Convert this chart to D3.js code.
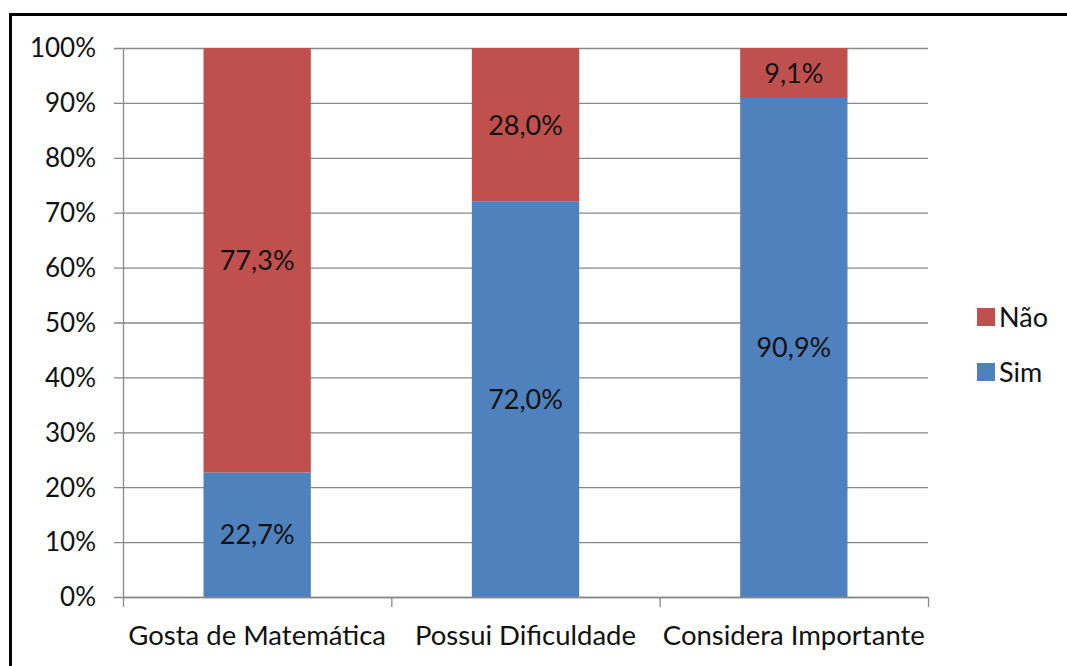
<!DOCTYPE html>
<html>
<head>
<meta charset="utf-8">
<script src="https://cdn.jsdelivr.net/npm/d3@7"></script>
<style>
  html, body { margin: 0; padding: 0; background: #fff; }
  svg { display: block; }
  text { font-family: Lato, "Open Sans", sans-serif; fill: #111; }
</style>
</head>
<body>
<svg id="chart" width="1067" height="666"></svg>
<script>
// Survey answers per question (percent of respondents)
const categories = ["Gosta de Matemática", "Possui Dificuldade", "Considera Importante"];
const simValues = [22.7, 72.0, 90.9];
const naoValues = [77.3, 28.0, 9.1];
const seriesNames = ["Sim", "Não"];
const seriesColors = ["#4F81BD", "#C0504D"];
const yTicks = [0, 10, 20, 30, 40, 50, 60, 70, 80, 90, 100];

const svg = d3.select("#chart");

// outer frame
svg.append("rect")
  .attr("x", 10.5).attr("y", 14.5)
  .attr("width", 1100).attr("height", 700)
  .attr("fill", "none").attr("stroke", "#000").attr("stroke-width", 3);

const plotLeft = 123, plotRight = 928, plotTop = 48, plotBottom = 597;

const x = d3.scaleBand().domain(categories).range([plotLeft, plotRight]).paddingInner(0.6).paddingOuter(0.3);
const xOuter = d3.scaleBand().domain(categories).range([plotLeft, plotRight]);
const y = d3.scaleLinear().domain([0, 100]).range([plotBottom, plotTop]);

const fmt = v => v.toFixed(1).replace(".", ",") + "%";

// horizontal gridlines
svg.append("g").selectAll("line").data(yTicks).join("line")
  .attr("x1", plotLeft - 9).attr("x2", plotRight)
  .attr("y1", d => y(d) + 0.5).attr("y2", d => y(d) + 0.5)
  .attr("stroke", "#898989").attr("stroke-width", 1.3);

// y axis line
svg.append("line")
  .attr("x1", plotLeft + 0.5).attr("x2", plotLeft + 0.5)
  .attr("y1", plotTop).attr("y2", plotBottom)
  .attr("stroke", "#898989").attr("stroke-width", 1.3);

// y tick labels
svg.append("g").selectAll("text").data(yTicks).join("text")
  .attr("x", 96).attr("y", d => y(d))
  .attr("dy", "0.36em")
  .attr("text-anchor", "end")
  .attr("font-size", 26)
  .text(d => d + "%");

// stacked data
const rows = categories.map((c, i) => ({ cat: c, Sim: simValues[i], "Não": naoValues[i] }));
const stack = d3.stack().keys(seriesNames)(rows);

const barsG = svg.append("g");
stack.forEach((layer, li) => {
  barsG.append("g").selectAll("rect").data(layer).join("rect")
    .attr("x", d => x(d.data.cat))
    .attr("width", x.bandwidth())
    .attr("y", d => y(d[1]))
    .attr("height", d => y(d[0]) - y(d[1]))
    .attr("fill", seriesColors[li]);
  barsG.append("g").selectAll("text").data(layer).join("text")
    .attr("x", d => x(d.data.cat) + x.bandwidth() / 2)
    .attr("y", d => y((d[0] + d[1]) / 2))
    .attr("dy", "0.36em")
    .attr("text-anchor", "middle")
    .attr("font-size", 27)
    .text(d => fmt(d[1] - d[0]));
});

// x axis baseline and ticks
svg.append("line")
  .attr("x1", plotLeft).attr("x2", plotRight)
  .attr("y1", plotBottom + 0.5).attr("y2", plotBottom + 0.5)
  .attr("stroke", "#898989").attr("stroke-width", 1.3);
const xTickPos = categories.map(c => xOuter(c)).concat([plotRight]);
svg.append("g").selectAll("line").data(xTickPos).join("line")
  .attr("x1", d => d + 0.5).attr("x2", d => d + 0.5)
  .attr("y1", plotBottom).attr("y2", plotBottom + 10)
  .attr("stroke", "#898989").attr("stroke-width", 1.3);

// category labels
svg.append("g").selectAll("text").data(categories).join("text")
  .attr("x", d => xOuter(d) + xOuter.bandwidth() / 2)
  .attr("y", 645)
  .attr("text-anchor", "middle")
  .attr("font-size", 27.5)
  .text(d => d);

// legend (Não above Sim)
const legendItems = [{ name: "Não", color: seriesColors[1] }, { name: "Sim", color: seriesColors[0] }];
const lg = svg.append("g").selectAll("g").data(legendItems).join("g")
  .attr("transform", (d, i) => `translate(977, ${308 + i * 55})`);
lg.append("rect").attr("width", 18).attr("height", 18).attr("fill", d => d.color);
lg.append("text").attr("x", 22).attr("y", 9).attr("dy", "0.36em")
  .attr("font-size", 27).text(d => d.name);
</script>
</body>
</html>
